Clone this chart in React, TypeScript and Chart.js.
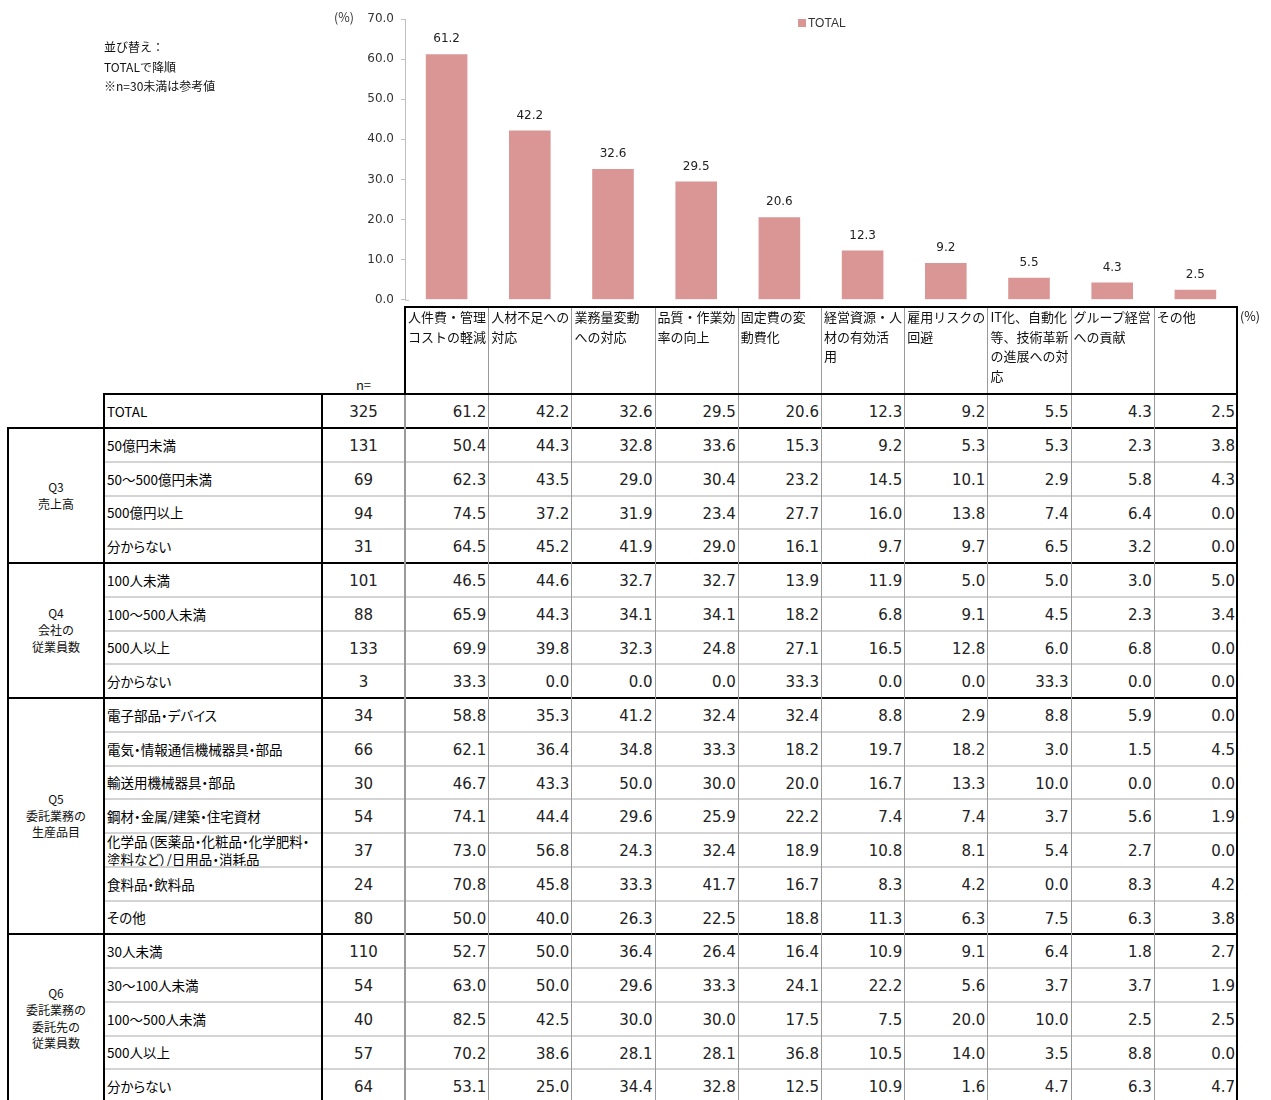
import React, { useEffect, useRef } from 'react';
import { Chart, registerables } from 'chart.js';

Chart.register(...registerables);

// ---------- data ----------
const categories = [
  '人件費・管理コストの軽減',
  '人材不足への対応',
  '業務量変動への対応',
  '品質・作業効率の向上',
  '固定費の変動費化',
  '経営資源・人材の有効活用',
  '雇用リスクの回避',
  'IT化、自動化等、技術革新の進展への対応',
  'グループ経営への貢献',
  'その他',
];
const headerLines = [
  ['人件費・管理', 'コストの軽減'],
  ['人材不足への', '対応'],
  ['業務量変動', 'への対応'],
  ['品質・作業効', '率の向上'],
  ['固定費の変', '動費化'],
  ['経営資源・人', '材の有効活', '用'],
  ['雇用リスクの', '回避'],
  ['IT化、自動化', '等、技術革新', 'の進展への対', '応'],
  ['グループ経営', 'への貢献'],
  ['その他'],
];
const yTicks = [0, 10, 20, 30, 40, 50, 60, 70];
const totalN = 325;
const totalValues = [61.2, 42.2, 32.6, 29.5, 20.6, 12.3, 9.2, 5.5, 4.3, 2.5];

const notes = ['並び替え：', 'TOTALで降順', '※n=30未満は参考値'];

const q3Name = ['Q3', '売上高'];
const q3Labels = ['50億円未満', '50～500億円未満', '500億円以上', '分からない'];
const q3N = [131, 69, 94, 31];
const q3Values = [
  [50.4, 44.3, 32.8, 33.6, 15.3, 9.2, 5.3, 5.3, 2.3, 3.8],
  [62.3, 43.5, 29.0, 30.4, 23.2, 14.5, 10.1, 2.9, 5.8, 4.3],
  [74.5, 37.2, 31.9, 23.4, 27.7, 16.0, 13.8, 7.4, 6.4, 0.0],
  [64.5, 45.2, 41.9, 29.0, 16.1, 9.7, 9.7, 6.5, 3.2, 0.0],
];

const q4Name = ['Q4', '会社の', '従業員数'];
const q4Labels = ['100人未満', '100～500人未満', '500人以上', '分からない'];
const q4N = [101, 88, 133, 3];
const q4Values = [
  [46.5, 44.6, 32.7, 32.7, 13.9, 11.9, 5.0, 5.0, 3.0, 5.0],
  [65.9, 44.3, 34.1, 34.1, 18.2, 6.8, 9.1, 4.5, 2.3, 3.4],
  [69.9, 39.8, 32.3, 24.8, 27.1, 16.5, 12.8, 6.0, 6.8, 0.0],
  [33.3, 0.0, 0.0, 0.0, 33.3, 0.0, 0.0, 33.3, 0.0, 0.0],
];

const q5Name = ['Q5', '委託業務の', '生産品目'];
const q5Labels = [
  '電子部品・デバイス',
  '電気・情報通信機械器具・部品',
  '輸送用機械器具・部品',
  '鋼材・金属/建築・住宅資材',
  '化学品（医薬品・化粧品・化学肥料・\n塗料など）/日用品・消耗品',
  '食料品・飲料品',
  'その他',
];
const q5N = [34, 66, 30, 54, 37, 24, 80];
const q5Values = [
  [58.8, 35.3, 41.2, 32.4, 32.4, 8.8, 2.9, 8.8, 5.9, 0.0],
  [62.1, 36.4, 34.8, 33.3, 18.2, 19.7, 18.2, 3.0, 1.5, 4.5],
  [46.7, 43.3, 50.0, 30.0, 20.0, 16.7, 13.3, 10.0, 0.0, 0.0],
  [74.1, 44.4, 29.6, 25.9, 22.2, 7.4, 7.4, 3.7, 5.6, 1.9],
  [73.0, 56.8, 24.3, 32.4, 18.9, 10.8, 8.1, 5.4, 2.7, 0.0],
  [70.8, 45.8, 33.3, 41.7, 16.7, 8.3, 4.2, 0.0, 8.3, 4.2],
  [50.0, 40.0, 26.3, 22.5, 18.8, 11.3, 6.3, 7.5, 6.3, 3.8],
];

const q6Name = ['Q6', '委託業務の', '委託先の', '従業員数'];
const q6Labels = ['30人未満', '30～100人未満', '100～500人未満', '500人以上', '分からない'];
const q6N = [110, 54, 40, 57, 64];
const q6Values = [
  [52.7, 50.0, 36.4, 26.4, 16.4, 10.9, 9.1, 6.4, 1.8, 2.7],
  [63.0, 50.0, 29.6, 33.3, 24.1, 22.2, 5.6, 3.7, 3.7, 1.9],
  [82.5, 42.5, 30.0, 30.0, 17.5, 7.5, 20.0, 10.0, 2.5, 2.5],
  [70.2, 38.6, 28.1, 28.1, 36.8, 10.5, 14.0, 3.5, 8.8, 0.0],
  [53.1, 25.0, 34.4, 32.8, 12.5, 10.9, 1.6, 4.7, 6.3, 4.7],
];

// ---------- layout / style ----------
const BAR_COLOR = '#D99694';
const JP = '"Noto Sans CJK JP", sans-serif';
const NUM = '"DejaVu Sans", sans-serif';
const X_GROUP = 8;
const X_LABEL = 104;
const X_N = 322;
const X_DATA = 405;
const X_RIGHT = 1237;
const COL_W = (X_RIGHT - X_DATA) / 10;
const HEADER_TOP = 307;
const TOTAL_TOP = 394;
const GROUPS_TOP = 428;
const ROW_H = 33.75;
const CANVAS_H = 314;

const groups = [
  { name: q3Name, labels: q3Labels, n: q3N, values: q3Values },
  { name: q4Name, labels: q4Labels, n: q4N, values: q4Values },
  { name: q5Name, labels: q5Labels, n: q5N, values: q5Values },
  { name: q6Name, labels: q6Labels, n: q6N, values: q6Values },
];

const valueLabelPlugin = {
  id: 'valueLabels',
  afterDatasetsDraw(chart: any) {
    const ctx = chart.ctx;
    const meta = chart.getDatasetMeta(0);
    const ds = chart.data.datasets[0];
    const data = ds.data as number[];
    ctx.save();
    ctx.font = `12px ${NUM}`;
    ctx.fillStyle = '#222';
    ctx.textAlign = 'center';
    ctx.textBaseline = 'middle';
    meta.data.forEach((el: any, i: number) => {
      ctx.fillText(Number(data[i]).toFixed(1), el.x, el.y - 15);
    });
    // legend (single series)
    ctx.fillStyle = ds.backgroundColor;
    ctx.fillRect(798, 19, 8, 8);
    ctx.font = '12px "Liberation Sans", sans-serif';
    ctx.fillStyle = '#333';
    ctx.textAlign = 'left';
    ctx.fillText(ds.label, 808, 23.5);
    // small stub at the axis origin
    const ca = chart.chartArea;
    ctx.strokeStyle = '#bfbfbf';
    ctx.lineWidth = 1;
    ctx.beginPath();
    ctx.moveTo(ca.left, ca.bottom + 0.5);
    ctx.lineTo(ca.left + 4, ca.bottom + 0.5);
    ctx.stroke();
    ctx.restore();
  },
};

function BarChart() {
  const ref = useRef<HTMLCanvasElement | null>(null);
  useEffect(() => {
    if (!ref.current) return;
    const chart = new Chart(ref.current, {
      type: 'bar',
      data: {
        labels: categories,
        datasets: [
          {
            label: 'TOTAL',
            data: totalValues,
            backgroundColor: BAR_COLOR,
            borderWidth: 0,
            categoryPercentage: 1,
            barPercentage: 0.5,
          },
        ],
      },
      options: {
        animation: false,
        responsive: false,
        maintainAspectRatio: false,
        layout: { padding: { top: 19, right: 1271 - X_RIGHT, bottom: 0, left: 0 } },
        scales: {
          x: { display: false, offset: true },
          y: {
            min: 0,
            max: 70,
            afterBuildTicks: (s: any) => {
              s.ticks = yTicks.map((v) => ({ value: v }));
            },
            afterFit: (s: any) => {
              s.width = X_DATA;
            },
            ticks: {
              callback: (v: any) => Number(v).toFixed(1),
              font: { family: 'DejaVu Sans', size: 12 },
              color: '#333',
              padding: 7,
            },
            grid: { drawOnChartArea: false, tickLength: 4, color: '#bfbfbf' },
            border: { color: '#bfbfbf', width: 1 },
          },
        },
        plugins: {
          legend: { display: false },
          tooltip: { enabled: false },
        },
      },
      plugins: [valueLabelPlugin],
    });
    return () => chart.destroy();
  }, []);
  return (
    <canvas
      ref={ref}
      width={1271}
      height={CANVAS_H}
      style={{ position: 'absolute', left: 0, top: 0, width: 1271, height: CANVAS_H }}
    />
  );
}

function Line({ x, y, w, h, c }: { x: number; y: number; w: number; h: number; c: string }) {
  return <div style={{ position: 'absolute', left: x, top: y, width: w, height: h, background: c }} />;
}

export default function App() {
  const lines: any[] = [];
  const texts: any[] = [];
  const BLACK = '#000';
  const GRAY = '#9a9a9a';
  const LIGHT = '#d4d4d4';
  const END = 1110;

  headerLines.forEach((ls, i) => {
    texts.push(
      <div
        key={'h' + i}
        style={{
          position: 'absolute',
          left: X_DATA + i * COL_W + 3,
          top: HEADER_TOP,
          width: COL_W - 3,
          fontFamily: JP,
          fontSize: 13,
          lineHeight: '19.5px',
          color: '#111',
          whiteSpace: 'nowrap',
        }}
      >
        {ls.map((l, k) => (
          <div key={k}>{l}</div>
        ))}
      </div>
    );
  });
  texts.push(
    <div key="neq" style={{ position: 'absolute', left: X_N, width: X_DATA - X_N, top: 376, textAlign: 'center', fontFamily: JP, fontSize: 13, lineHeight: '18px', color: '#111' }}>
      n=
    </div>
  );
  texts.push(
    <div key="pct2" style={{ position: 'absolute', left: 1240, top: 307, fontFamily: JP, fontSize: 12.5, lineHeight: '18px', color: '#111' }}>
      (%)
    </div>
  );

  const rowTexts = (key: string, top: number, label: string, n: number, vals: number[]) => {
    texts.push(
      <div
        key={key + 'l'}
        style={{
          position: 'absolute',
          left: X_LABEL + 3,
          top,
          width: X_N - X_LABEL - 3,
          height: ROW_H,
          display: 'flex',
          alignItems: 'center',
          fontFamily: JP,
          fontSize: 13.5,
          lineHeight: '18px',
          fontFeatureSettings: '"palt"',
          whiteSpace: 'pre',
          color: '#000',
        }}
      >
        {label}
      </div>
    );
    texts.push(
      <div
        key={key + 'n'}
        style={{
          position: 'absolute',
          left: X_N,
          top: top + 2,
          width: X_DATA - X_N,
          height: ROW_H,
          lineHeight: ROW_H + 'px',
          textAlign: 'center',
          fontFamily: NUM,
          fontSize: 15,
          color: '#222',
        }}
      >
        {n}
      </div>
    );
    vals.forEach((v, i) => {
      texts.push(
        <div
          key={key + 'v' + i}
          style={{
            position: 'absolute',
            left: X_DATA + i * COL_W,
            top: top + 2,
            width: COL_W - 2,
            height: ROW_H,
            lineHeight: ROW_H + 'px',
            textAlign: 'right',
            fontFamily: NUM,
            fontSize: 15,
            color: '#222',
          }}
        >
          {v.toFixed(1)}
        </div>
      );
    });
  };

  rowTexts('total', TOTAL_TOP, 'TOTAL', totalN, totalValues);

  let y = GROUPS_TOP;
  groups.forEach((g, gi) => {
    const gTop = y;
    g.labels.forEach((lab, j) => {
      if (j > 0) lines.push(<Line key={`rs${gi}-${j}`} x={X_LABEL} y={y - 1} w={X_RIGHT - X_LABEL} h={2} c={LIGHT} />);
      rowTexts(`g${gi}r${j}`, y, lab, g.n[j], g.values[j]);
      y += ROW_H;
    });
    texts.push(
      <div
        key={'gn' + gi}
        style={{
          position: 'absolute',
          left: X_GROUP,
          top: gTop,
          width: X_LABEL - X_GROUP,
          height: y - gTop,
          display: 'flex',
          flexDirection: 'column',
          justifyContent: 'center',
          alignItems: 'center',
          fontFamily: JP,
          fontSize: 12,
          lineHeight: '16.7px',
          color: '#111',
        }}
      >
        {g.name.map((l, k) => (
          <div key={k}>{l}</div>
        ))}
      </div>
    );
    lines.push(<Line key={'gt' + gi} x={X_GROUP} y={gTop - 1} w={X_RIGHT - X_GROUP + 1} h={2} c={BLACK} />);
  });

  for (let i = 1; i < 10; i++) {
    lines.push(<Line key={'vc' + i} x={Math.round(X_DATA + i * COL_W)} y={HEADER_TOP} w={1} h={END - HEADER_TOP} c={GRAY} />);
  }
  lines.push(<Line key="vd" x={X_DATA - 1} y={TOTAL_TOP} w={2} h={END - TOTAL_TOP} c={GRAY} />);
  lines.push(<Line key="vdh" x={X_DATA - 1} y={HEADER_TOP - 1} w={2} h={TOTAL_TOP - HEADER_TOP + 1} c={BLACK} />);
  lines.push(<Line key="vr" x={X_RIGHT - 1} y={HEADER_TOP - 1} w={2} h={END - HEADER_TOP} c={BLACK} />);
  lines.push(<Line key="vn" x={X_N - 1} y={TOTAL_TOP - 1} w={2} h={END - TOTAL_TOP} c={BLACK} />);
  lines.push(<Line key="vl" x={X_LABEL - 1} y={TOTAL_TOP - 1} w={2} h={END - TOTAL_TOP} c={BLACK} />);
  lines.push(<Line key="vg" x={X_GROUP - 1} y={GROUPS_TOP - 1} w={2} h={END - GROUPS_TOP} c={BLACK} />);
  lines.push(<Line key="ht" x={X_DATA - 1} y={HEADER_TOP - 1} w={X_RIGHT - X_DATA + 1} h={2} c={BLACK} />);
  lines.push(<Line key="htt" x={X_LABEL - 1} y={TOTAL_TOP - 1} w={X_RIGHT - X_LABEL + 1} h={2} c={BLACK} />);

  return (
    <div
      style={{
        position: 'absolute',
        left: 0,
        top: 0,
        width: 1271,
        height: 1100,
        overflow: 'hidden',
        background: '#fff',
      }}
    >
      <BarChart />
      <div style={{ position: 'absolute', left: 334, top: 8, fontFamily: JP, fontSize: 12.5, lineHeight: '18px', color: '#333' }}>(%)</div>
      <div style={{ position: 'absolute', left: 104, top: 37, fontFamily: JP, fontSize: 12, lineHeight: '19.5px', color: '#111' }}>
        {notes.map((n, i) => (
          <div key={i}>{n}</div>
        ))}
      </div>
      {texts}
      {lines}
    </div>
  );
}
